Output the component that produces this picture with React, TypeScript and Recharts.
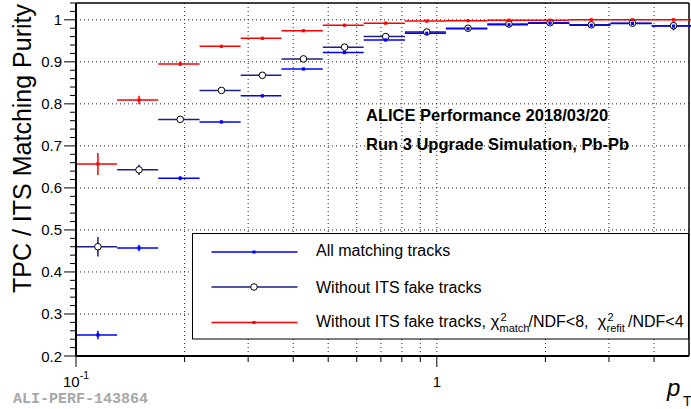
import React from 'react';
import { ComposedChart, Scatter, XAxis, YAxis, ErrorBar, ReferenceLine } from 'recharts';

// pT bin edges (GeV/c)
const binEdges = [0.1, 0.13, 0.169, 0.22, 0.286, 0.371, 0.483, 0.627, 0.816, 1.06, 1.38, 1.79, 2.33, 3.03, 3.94, 5.12];

// All matching tracks
const allMatching = [0.250, 0.457, 0.623, 0.757, 0.819, 0.883, 0.922, 0.952, 0.968, 0.979, 0.988, 0.992, 0.987, 0.991, 0.985];
const allMatchingErr = [0.010, 0.008, 0.005, 0.003, 0.003, 0.002, 0.002, 0.002, 0.002, 0.002, 0.002, 0.002, 0.003, 0.003, 0.010];

// Without ITS fake tracks
const noFake = [0.460, 0.643, 0.763, 0.832, 0.868, 0.907, 0.935, 0.960, 0.971, 0.980, 0.990, 0.993, 0.988, 0.992, 0.986];
const noFakeErr = [0.023, 0.012, 0.006, 0.004, 0.003, 0.003, 0.002, 0.002, 0.002, 0.002, 0.002, 0.002, 0.003, 0.003, 0.010];

// Without ITS fake tracks + chi2 cuts
const noFakeChi2 = [0.657, 0.809, 0.895, 0.937, 0.956, 0.974, 0.987, 0.992, 0.997, 0.998, 0.999, 0.999, 1.000, 1.000, 1.000];
const noFakeChi2Err = [0.026, 0.010, 0.005, 0.003, 0.003, 0.002, 0.002, 0.002, 0.001, 0.001, 0.001, 0.001, 0.001, 0.001, 0.002];

const xTicks = [0.1, 0.2, 0.3, 0.4, 0.5, 0.6, 0.7, 0.8, 0.9, 1, 2, 3, 4];
const xMajor = [0.1, 1];
const xGrid = [0.2, 0.3, 0.4, 0.5, 0.6, 0.7, 0.8, 0.9, 1, 2, 3, 4];
const yTicks = [0.2, 0.22, 0.24, 0.26, 0.28, 0.3, 0.32, 0.34, 0.36, 0.38, 0.4, 0.42, 0.44, 0.46, 0.48, 0.5, 0.52, 0.54, 0.56, 0.58, 0.6, 0.62, 0.64, 0.66, 0.68, 0.7, 0.72, 0.74, 0.76, 0.78, 0.8, 0.82, 0.84, 0.86, 0.88, 0.9, 0.92, 0.94, 0.96, 0.98, 1.0, 1.02, 1.04];
const yMajor = [0.2, 0.3, 0.4, 0.5, 0.6, 0.7, 0.8, 0.9, 1.0];
const yMajorLabels = ['0.2', '0.3', '0.4', '0.5', '0.6', '0.7', '0.8', '0.9', '1'];
const yGrid = [0.3, 0.4, 0.5, 0.6, 0.7, 0.8, 0.9, 1.0];

const FONT = '"Liberation Sans", Arial, Helvetica, sans-serif';
const BLUE = '#0000ff';
const NAVY = '#1e1e8c';
const RED = '#ff0000';

function buildSeries(values: number[], errs: number[]) {
  return values.map((v, i) => {
    const lo = binEdges[i];
    const hi = binEdges[i + 1];
    const c = (lo + hi) / 2;
    return { x: c, y: v, ex: [c - lo, hi - c], ey: errs[i] };
  });
}

const dataBlue = buildSeries(allMatching, allMatchingErr);
const dataNavy = buildSeries(noFake, noFakeErr);
const dataRed = buildSeries(noFakeChi2, noFakeChi2Err);

const near = (a: number, b: number) => Math.abs(a - b) < 1e-6;

const YTick = (props: any) => {
  const { x, y, payload } = props;
  const v = payload.value;
  const idx = yMajor.findIndex((m) => near(m, v));
  const major = idx >= 0;
  const len = major ? 12 : 6;
  return (
    <g>
      <line x1={x - len} x2={x} y1={y} y2={y} stroke="#000" strokeWidth={1} />
      {major && (
        <text x={x - 14} y={y + 5.5} textAnchor="end" fontSize={15} fontFamily={FONT} fill="#000">
          {yMajorLabels[idx]}
        </text>
      )}
    </g>
  );
};

const XTick = (props: any) => {
  const { x, y, payload } = props;
  const v = payload.value;
  const major = xMajor.some((m) => near(m, v));
  const len = major ? 11 : 6;
  return (
    <g>
      <line x1={x} x2={x} y1={y} y2={y + len} stroke="#000" strokeWidth={1} />
      {near(v, 0.1) && (
        <text x={x - 13} y={y + 31} fontSize={15} fontFamily={FONT} fill="#000">
          10
          <tspan dy={-8} fontSize={10.5}>-1</tspan>
        </text>
      )}
      {near(v, 1) && (
        <text x={x} y={y + 31} textAnchor="middle" fontSize={15} fontFamily={FONT} fill="#000">
          1
        </text>
      )}
    </g>
  );
};

const squareShape = (color: string) => (props: any) => {
  const { cx, cy } = props;
  if (cx == null || cy == null) return <g />;
  return <rect x={cx - 1.6} y={cy - 1.6} width={3.2} height={3.2} fill={color} />;
};

const circleShape = (props: any) => {
  const { cx, cy } = props;
  if (cx == null || cy == null) return <g />;
  return <circle cx={cx} cy={cy} r={3.3} fill="#fff" stroke="#000" strokeWidth={1} />;
};

const Overlay = () => (
  <svg
    width={691}
    height={409}
    style={{ position: 'absolute', left: 0, top: 0, pointerEvents: 'none' }}
  >
    {/* Y axis title */}
    <text
      transform="translate(31, 4) rotate(-90)"
      textAnchor="end"
      fontSize={25}
      fontFamily={FONT}
      fill="#000"
    >
      TPC / ITS Matching Purity
    </text>
    {/* X axis title */}
    <text x={667} y={396} fontSize={24} fontStyle="italic" fontFamily={FONT} fill="#000">
      p
    </text>
    <text x={683} y={406} fontSize={14} fontFamily={FONT} fill="#000">
      T
    </text>
    {/* ALICE labels */}
    <text x={366} y={121} fontSize={16.5} fontWeight="bold" fontFamily={FONT} fill="#000">
      ALICE Performance 2018/03/20
    </text>
    <text x={366} y={149.5} fontSize={16.5} fontWeight="bold" fontFamily={FONT} fill="#000">
      Run 3 Upgrade Simulation, Pb-Pb
    </text>
    <text
      x={13}
      y={403}
      fontSize={15}
      fontWeight="bold"
      fontFamily='"Liberation Mono", "Courier New", monospace'
      fill="#a8a8a8"
    >
      ALI-PERF-143864
    </text>
    {/* Legend */}
    <g transform="translate(192.5, 233.5)">
      <rect x={0} y={0} width={496} height={105.5} fill="#fff" stroke="#000" strokeWidth={1} />
      <line x1={19} x2={105} y1={18.5} y2={18.5} stroke={BLUE} strokeWidth={1.5} />
      <rect x={60} y={17} width={3} height={3} fill={BLUE} />
      <text x={123.5} y={22.5} fontSize={16} fontFamily={FONT} fill="#000">
        All matching tracks
      </text>
      <line x1={19} x2={105} y1={53.5} y2={53.5} stroke={NAVY} strokeWidth={1.5} />
      <circle cx={61.5} cy={53.5} r={3.3} fill="#fff" stroke="#000" strokeWidth={1} />
      <text x={123.5} y={59} fontSize={16} fontFamily={FONT} fill="#000">
        Without ITS fake tracks
      </text>
      <line x1={19} x2={105} y1={89} y2={89} stroke={RED} strokeWidth={1.5} />
      <rect x={60} y={87.5} width={3} height={3} fill={RED} />
      <text x={123.5} y={93} fontSize={16} fontFamily={FONT} fill="#000">
        Without ITS fake tracks,
      </text>
      <text x={298} y={93} fontSize={17} fontFamily={FONT} fill="#000">χ</text>
      <text x={308} y={87} fontSize={11} fontFamily={FONT} fill="#000">2</text>
      <text x={307} y={98} fontSize={11} fontFamily={FONT} fill="#000">match</text>
      <text x={336} y={93} fontSize={16} fontFamily={FONT} fill="#000">/NDF&lt;8,</text>
      <text x={405} y={93} fontSize={17} fontFamily={FONT} fill="#000">χ</text>
      <text x={415} y={87} fontSize={11} fontFamily={FONT} fill="#000">2</text>
      <text x={414} y={98} fontSize={11} fontFamily={FONT} fill="#000">refit</text>
      <text x={435.5} y={93} fontSize={16} fontFamily={FONT} fill="#000">/NDF&lt;4</text>
    </g>
  </svg>
);

export default function App() {
  return (
    <div style={{ position: 'absolute', left: 0, top: 0, width: 691, height: 409, background: '#fff' }}>
      <ComposedChart width={691} height={409} margin={{ top: 3, right: 2, bottom: 0, left: 0 }}>
        <XAxis
          dataKey="x"
          type="number"
          scale="log"
          domain={[0.1, 5]}
          allowDataOverflow
          ticks={xTicks}
          interval={0}
          tick={XTick}
          tickLine={false}
          tickSize={0}
          tickMargin={0}
          height={53}
          axisLine={{ stroke: '#000', strokeWidth: 2 }}
        />
        <YAxis
          type="number"
          domain={[0.2, 1.04]}
          allowDataOverflow
          ticks={yTicks}
          interval={0}
          tick={YTick}
          tickLine={false}
          tickSize={0}
          tickMargin={0}
          width={76}
          axisLine={{ stroke: '#000', strokeWidth: 2 }}
        />
        {yGrid.map((v) => (
          <ReferenceLine key={'yg' + v} y={v} stroke="#222" strokeDasharray="1 3" strokeWidth={1} />
        ))}
        {xGrid.map((v) => (
          <ReferenceLine key={'xg' + v} x={v} stroke="#222" strokeDasharray="1 3" strokeWidth={1} />
        ))}
        <ReferenceLine y={1.04} stroke="#000" strokeWidth={1.5} />
        <ReferenceLine x={5} stroke="#000" strokeWidth={1.5} />
        <Scatter data={dataNavy} dataKey="y" shape={circleShape} isAnimationActive={false}>
          <ErrorBar dataKey="ex" direction="x" width={0} stroke={NAVY} strokeWidth={1.5} isAnimationActive={false} />
          <ErrorBar dataKey="ey" direction="y" width={0} stroke={NAVY} strokeWidth={1.5} isAnimationActive={false} />
        </Scatter>
        <Scatter data={dataBlue} dataKey="y" shape={squareShape(BLUE)} isAnimationActive={false}>
          <ErrorBar dataKey="ex" direction="x" width={0} stroke={BLUE} strokeWidth={1.5} isAnimationActive={false} />
          <ErrorBar dataKey="ey" direction="y" width={0} stroke={BLUE} strokeWidth={1.5} isAnimationActive={false} />
        </Scatter>
        <Scatter data={dataRed} dataKey="y" shape={squareShape(RED)} isAnimationActive={false}>
          <ErrorBar dataKey="ex" direction="x" width={0} stroke={RED} strokeWidth={1.5} isAnimationActive={false} />
          <ErrorBar dataKey="ey" direction="y" width={0} stroke={RED} strokeWidth={1.5} isAnimationActive={false} />
        </Scatter>
      </ComposedChart>
      <Overlay />
    </div>
  );
}
